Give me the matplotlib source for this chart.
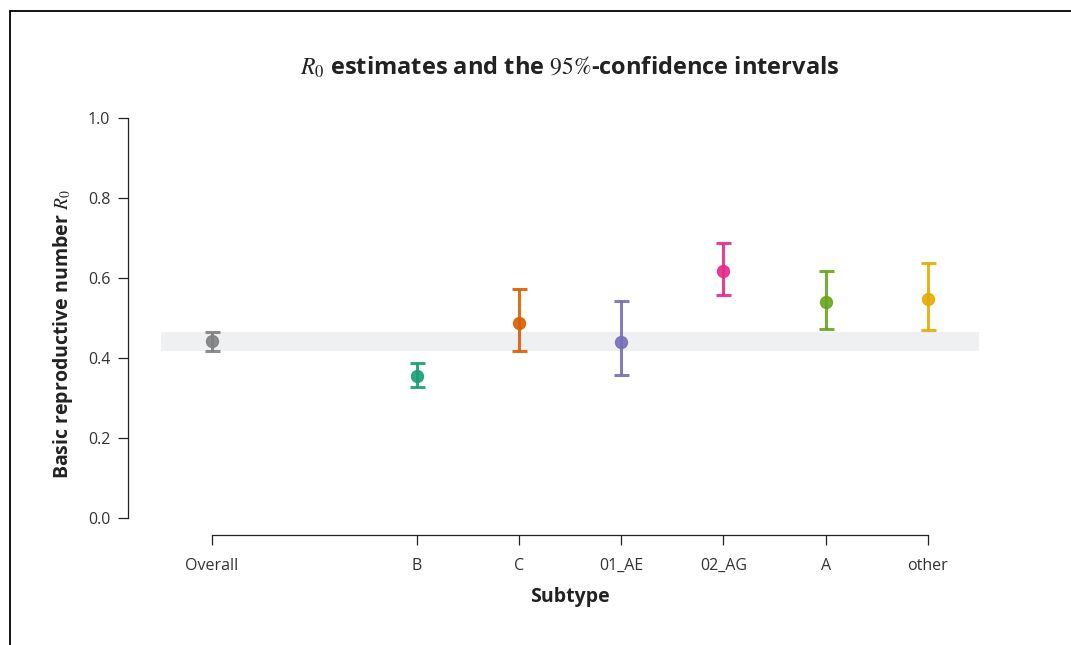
import matplotlib
matplotlib.use("Agg")
import matplotlib.pyplot as plt
from matplotlib.patches import Rectangle

plt.rcParams["font.family"] = ["Open Sans", "DejaVu Sans"]
plt.rcParams["mathtext.fontset"] = "stix"

# R0 estimates per subtype with 95% confidence bounds
subtypes = ["Overall", "B", "C", "01_AE", "02_AG", "A", "other"]
positions = [0, 2, 3, 4, 5, 6, 7]
r0_est = [0.442, 0.355, 0.488, 0.439, 0.618, 0.541, 0.548]
r0_low = [0.418, 0.327, 0.417, 0.357, 0.557, 0.473, 0.470]
r0_high = [0.465, 0.388, 0.572, 0.542, 0.687, 0.617, 0.638]
colors = ["#808080", "#1B9E77", "#D95F02", "#7570B3", "#E7298A", "#66A61E", "#E6AB02"]
yticks = [0.0, 0.2, 0.4, 0.6, 0.8, 1.0]

W, H = 1071, 645
fig = plt.figure(figsize=(W / 100, H / 100), dpi=100)
ax = fig.add_axes([161 / W, 1 - 535 / H, (979 - 161) / W, (535 - 102) / H])

ax.set_xlim(-0.5, 7.5)
ax.set_ylim(-0.0425, 1.04)

# band showing the overall confidence interval
ax.axhspan(r0_low[0], r0_high[0], color="#EFF0F2", zorder=0, lw=0)

for x, m, lo, hi, c in zip(positions, r0_est, r0_low, r0_high, colors):
    ax.errorbar(x, m, yerr=[[m - lo], [hi - m]], fmt="o", color=c,
                ecolor=c, elinewidth=2.2, capsize=5.4, capthick=2.2,
                markersize=8.6, alpha=0.9, zorder=3)

for s in ["top", "right"]:
    ax.spines[s].set_visible(False)
ax.spines["left"].set_position(("outward", 24))
ax.spines["left"].set_bounds(0, 1)
ax.spines["bottom"].set_bounds(0, 7)
for s in ["left", "bottom"]:
    ax.spines[s].set_linewidth(0.9)
    ax.spines[s].set_color("#222222")

ax.set_yticks(yticks)
ax.set_yticklabels([f"{v:.1f}" for v in yticks])
ax.set_xticks(positions)
ax.set_xticklabels(subtypes)
ax.tick_params(axis="y", length=7.5, width=0.9, color="#222222", labelsize=11.5,
               labelcolor="#333333", pad=5)
ax.tick_params(axis="x", length=7.2, width=0.9, color="#222222", labelsize=11.5,
               labelcolor="#333333", pad=9)

ax.set_xlabel("Subtype", fontsize=14, fontweight="bold", color="#222222", labelpad=10)
ax.set_ylabel(r"Basic reproductive number $R_0$", fontsize=14, fontweight="bold",
              color="#222222", labelpad=7)
ax.yaxis.set_label_coords(-0.1055, 0.463)
ax.set_title(r"$R_0$ estimates and the $95\%$-confidence intervals",
             fontsize=17, fontweight="bold", color="#222222", pad=20)

# frame along the top and left edges
fig.add_artist(Rectangle((9.5 / W, -0.1), 1.2, 1.1 - 11 / H, transform=fig.transFigure,
                         fill=False, lw=1.3, edgecolor="black"))

fig.savefig("out.png", dpi=100)
